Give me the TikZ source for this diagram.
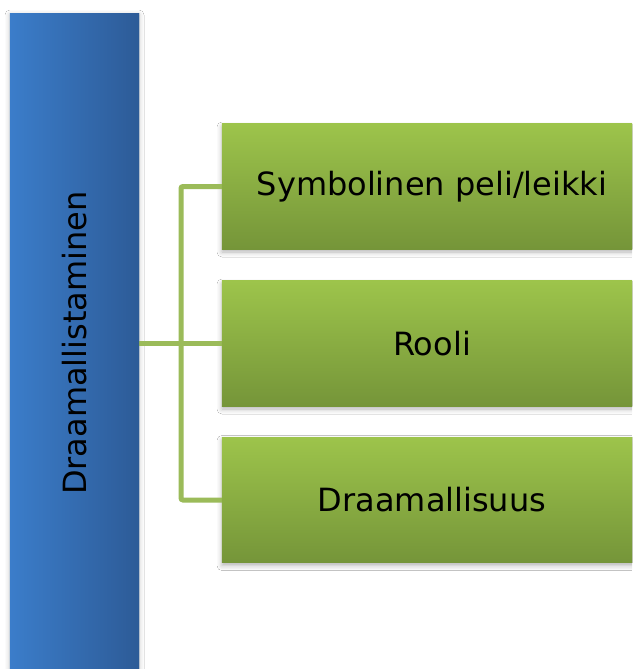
\documentclass[tikz,border=0pt]{standalone}
\usepackage{fontspec}
\setmainfont{DejaVu Sans}
\usetikzlibrary{shadows.blur}
\definecolor{blueL}{RGB}{59,125,202}
\definecolor{blueR}{RGB}{45,91,151}
\definecolor{greenT}{RGB}{157,196,75}
\definecolor{greenB}{RGB}{117,149,57}
\definecolor{conncol}{RGB}{155,187,89}
\tikzset{
  barbox/.style={rectangle, inner sep=0pt, minimum width=129pt, minimum height=658pt,
    left color=blueL, right color=blueR, draw=none,
    blur shadow={shadow xshift=0pt, shadow yshift=-1pt, shadow blur radius=5pt, shadow opacity=25}},
  greenbox/.style={rectangle, inner sep=0pt, minimum width=420pt, minimum height=125pt,
    top color=greenT, bottom color=greenB, draw=none,
    blur shadow={shadow xshift=0pt, shadow yshift=-3pt, shadow blur radius=5pt, shadow opacity=30}},
  lbl/.style={font=\fontsize{32}{38}\selectfont, text=black, inner sep=0pt},
  conn/.style={draw=conncol, line width=5pt, rounded corners=2pt}
}
\begin{document}
\begin{tikzpicture}[x=1pt,y=-1pt]
\useasboundingbox (0,0) rectangle (632,669);
\clip (0,0) rectangle (632,669);
\fill[white] (0,0) rectangle (632,669);
\coordinate (jx) at (181,343.5);
\node[barbox] (bar) at (74.5,343) {};
\node[greenbox] (b1) at (432,186.5) {};
\node[greenbox] (b2) at (432,343.5) {};
\node[greenbox] (b3) at (432,500) {};
\draw[conn] (b1.west) -| (jx) |- (b3.west);
\draw[conn] (bar.east |- b2.west) -- (b2.west);
% redraw box faces over connector ends
\fill[top color=greenT, bottom color=greenB] (b1.north west) rectangle (b1.south east);
\fill[top color=greenT, bottom color=greenB] (b2.north west) rectangle (b2.south east);
\fill[top color=greenT, bottom color=greenB] (b3.north west) rectangle (b3.south east);
\fill[left color=blueL, right color=blueR] (bar.north west) rectangle (bar.south east);
\node[lbl, rotate=90] (t0) at (bar.center) {Draamallistaminen};
\node[lbl] (t1) at (b1.center) {Symbolinen peli/leikki};
\node[lbl] (t2) at (b2.center) {Rooli};
\node[lbl] (t3) at (b3.center) {Draamallisuus};
\end{tikzpicture}
\end{document}
